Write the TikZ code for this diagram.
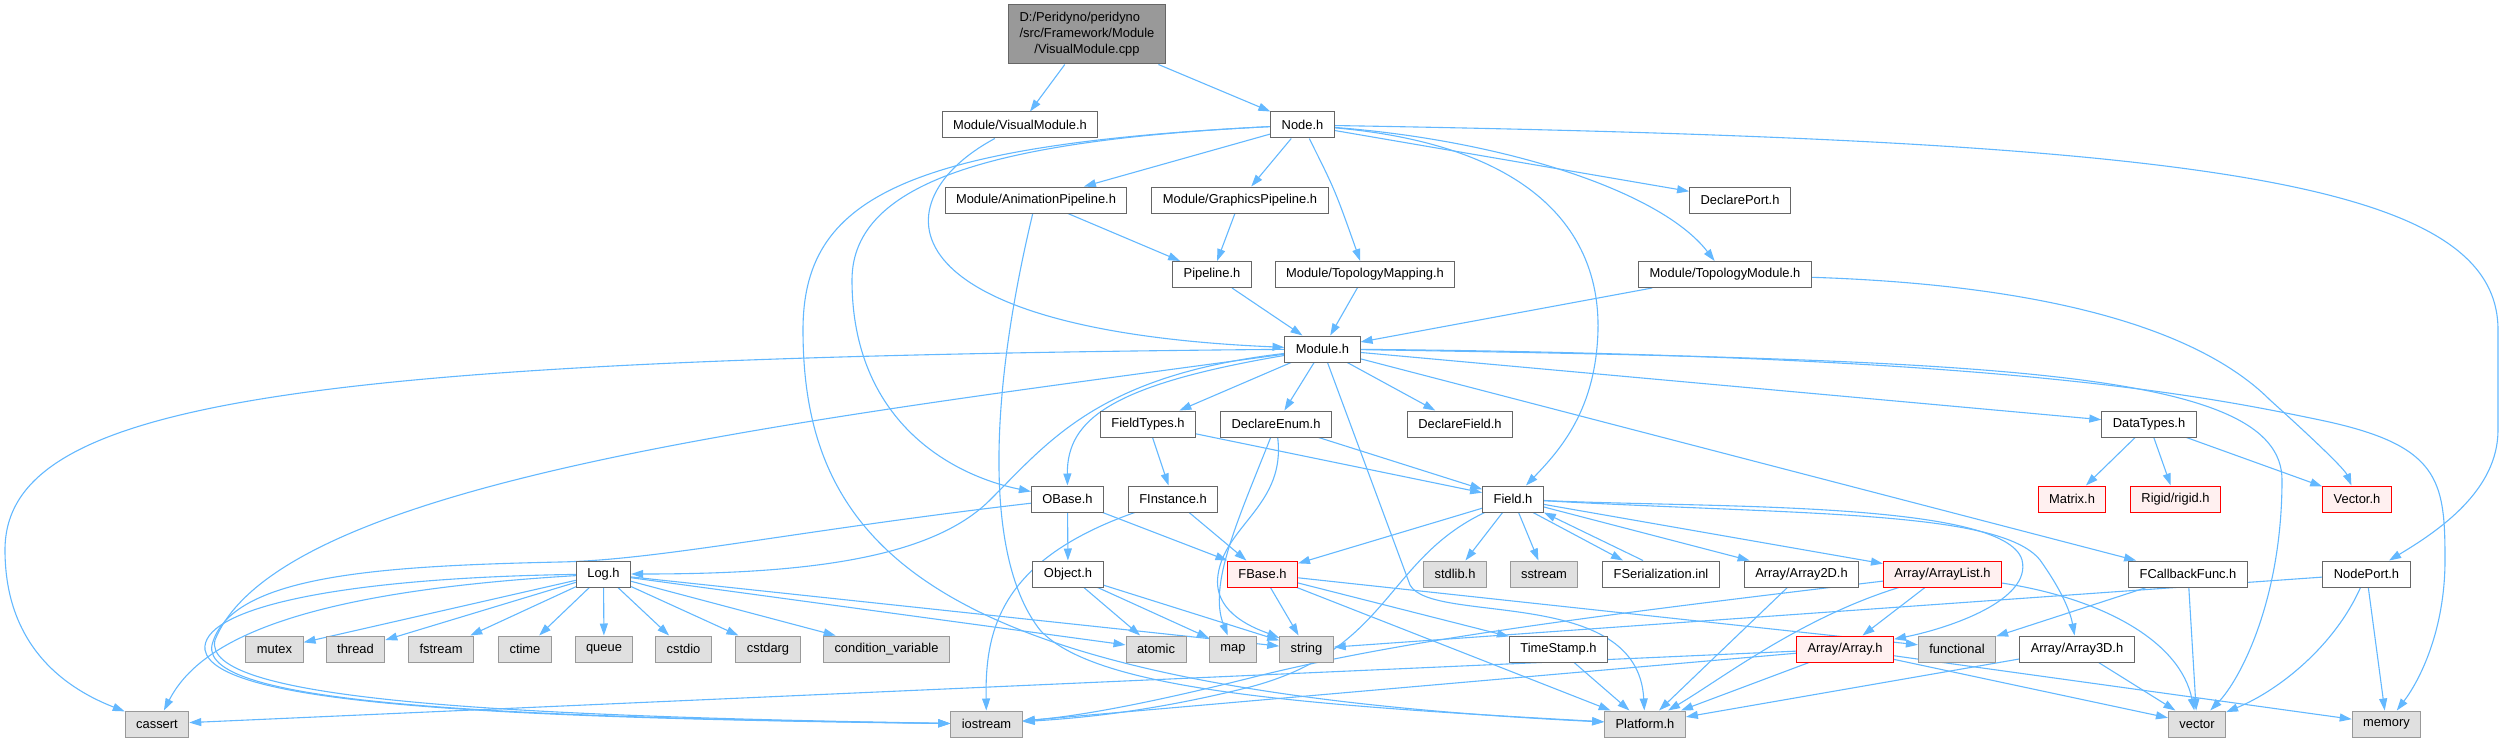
\documentclass[tikz,border=0pt]{standalone}
\usepackage{fontspec}
\setmainfont{Liberation Sans}
\usetikzlibrary{arrows.meta,backgrounds}
\definecolor{edgeblue}{HTML}{63B8FF}
\definecolor{boxline}{HTML}{666666}
\definecolor{sysline}{HTML}{999999}
\definecolor{sysfill}{HTML}{E0E0E0}
\definecolor{rootfill}{HTML}{999999}
\definecolor{redfill}{HTML}{FFF0F0}

\begin{document}
\begin{tikzpicture}[x=1pt,y=-1pt,>={Triangle[length=12pt,width=8pt]},
  file/.style={draw=boxline,fill=white,line width=1pt,minimum height=26pt,
    inner xsep=11pt,inner ysep=0pt,font=\fontsize{12.9}{16}\selectfont},
  sysfile/.style={file,draw=sysline,fill=sysfill},
  redfile/.style={file,draw=red,fill=redfill},
  dep/.style={->,edgeblue,line width=1.1pt}]
\useasboundingbox (0,0) rectangle (2504,741);

\node[file,fill=rootfill,minimum height=59pt] (cpp) at (1087,34.5)
  {\begin{tabular}{@{}l@{}}D:/Peridyno/peridyno\\/src/Framework/Module\\\multicolumn{1}{@{}c@{}}{/VisualModule.cpp}\end{tabular}};
\node[file] (vmodh) at (1020,125) {Module/VisualModule.h};
\node[file] (nodeh) at (1302.5,125) {Node.h};
\node[file] (animp) at (1036,200) {Module/AnimationPipeline.h};
\node[file] (gfxp) at (1240,200) {Module/GraphicsPipeline.h};
\node[file] (dport) at (1740,200) {DeclarePort.h};
\node[file] (pipe) at (1212,274.5) {Pipeline.h};
\node[file] (tmap) at (1365,274.5) {Module/TopologyMapping.h};
\node[file] (tmod) at (1725,274.5) {Module/TopologyModule.h};
\node[file] (modh) at (1322.5,349) {Module.h};
\node[file] (ftypes) at (1148,424) {FieldTypes.h};
\node[file] (denum) at (1276,424) {DeclareEnum.h};
\node[file] (dfield) at (1460,424) {DeclareField.h};
\node[file] (dtypes) at (2149,424) {DataTypes.h};
\node[file] (obase) at (1067.5,499) {OBase.h};
\node[file] (finst) at (1173,499) {FInstance.h};
\node[file] (field) at (1513,499) {Field.h};
\node[redfile] (matrix) at (2072,499) {Matrix.h};
\node[redfile] (rigid) at (2175.5,499) {Rigid/rigid.h};
\node[redfile] (vec) at (2357,499) {Vector.h};
\node[file] (log) at (603.5,574) {Log.h};
\node[file] (object) at (1068,574) {Object.h};
\node[redfile] (fbase) at (1262.5,574) {FBase.h};
\node[sysfile] (stdlib) at (1455,574) {stdlib.h};
\node[sysfile] (sstream) at (1544,574) {sstream};
\node[file] (fser) at (1661,574) {FSerialization.inl};
\node[file] (arr2d) at (1801.5,574) {Array/Array2D.h};
\node[redfile] (arrlist) at (1942.5,574) {Array/ArrayList.h};
\node[file] (fcb) at (2188,574) {FCallbackFunc.h};
\node[file] (nport) at (2366.5,574) {NodePort.h};
\node[sysfile] (mutex) at (274.5,649) {mutex};
\node[sysfile] (thread) at (355.5,649) {thread};
\node[sysfile] (fstream) at (441,649) {fstream};
\node[sysfile] (ctime) at (525,649) {ctime};
\node[sysfile] (queue) at (604,649) {queue};
\node[sysfile] (cstdio) at (683.5,649) {cstdio};
\node[sysfile] (cstdarg) at (768,649) {cstdarg};
\node[sysfile] (condvar) at (886.5,649) {condition\_variable};
\node[sysfile] (atomic) at (1156,649) {atomic};
\node[sysfile] (map) at (1233,649) {map};
\node[sysfile] (string) at (1306.5,649) {string};
\node[file] (tstamp) at (1558.5,649) {TimeStamp.h};
\node[redfile] (arr) at (1845,649) {Array/Array.h};
\node[sysfile] (functional) at (1957,649) {functional};
\node[file] (arr3d) at (2077,649) {Array/Array3D.h};
\node[sysfile] (cassert) at (157,724) {cassert};
\node[sysfile] (iostream) at (986.5,724) {iostream};
\node[sysfile] (platform) at (1645,724) {Platform.h};
\node[sysfile] (vector) at (2197,724) {vector};
\node[sysfile] (memory) at (2386.5,724) {memory};

\begin{pgfonlayer}{background}
\draw[dep] (cpp) -- (vmodh);
\draw[dep] (cpp) -- (nodeh);
\draw[dep] (vmodh) .. controls (880,200) and (880,330) .. (modh);
\draw[dep] (nodeh) -- (animp);
\draw[dep] (nodeh) -- (gfxp);
\draw[dep] (nodeh) .. controls (1335,190) .. (tmap);
\draw[dep] (nodeh) -- (dport);
\draw[dep] (nodeh) .. controls (1500,140) and (1660,190) .. (tmod);
\draw[dep] (nodeh) .. controls (2200,140) and (2498,180) .. (2498,330) -- (2498,430)
  .. controls (2498,490) and (2440,530) .. (nport);
\draw[dep] (nodeh) .. controls (1530,145) and (1600,230) .. (1598,330)
  .. controls (1596,410) and (1560,450) .. (field);
\draw[dep] (nodeh) .. controls (1000,140) and (852,180) .. (852,280)
  .. controls (852,420) and (950,475) .. (obase);
\draw[dep] (nodeh) .. controls (900,145) and (803,200) .. (803,330)
  .. controls (803,560) and (950,690) .. (platform);
\draw[dep] (animp) -- (pipe);
\draw[dep] (animp) .. controls (988,400) and (985,560) .. (1040,630)
  .. controls (1095,690) and (1300,705) .. (platform);
\draw[dep] (gfxp) -- (pipe);
\draw[dep] (pipe) -- (modh);
\draw[dep] (tmap) -- (modh);
\draw[dep] (tmod) -- (modh);
\draw[dep] (tmod) .. controls (2050,285) and (2200,330) .. (2270,400)
  .. controls (2320,445) and (2345,470) .. (vec);

\draw[dep] (modh) .. controls (300,358) and (5,400) .. (5,550)
  .. controls (5,650) and (70,690) .. (cassert);
\draw[dep] (modh) .. controls (1100,375) and (1050,440) .. (990,500)
  .. controls (930,560) and (800,574) .. (log);
\draw[dep] (modh) .. controls (1110,385) and (1067,420) .. (obase);
\draw[dep] (modh) .. controls (800,420) and (280,480) .. (215,640)
  .. controls (200,700) and (500,716) .. (iostream);
\draw[dep] (modh) -- (ftypes);
\draw[dep] (modh) -- (denum);
\draw[dep] (modh) -- (dfield);
\draw[dep] (modh) -- (1410,585) .. controls (1432,625) and (1638,585) .. (platform);
\draw[dep] (modh) -- (dtypes);
\draw[dep] (modh) -- (fcb);
\draw[dep] (modh) .. controls (2000,360) and (2282,370) .. (2282,480)
  .. controls (2282,600) and (2240,680) .. (vector);
\draw[dep] (modh) .. controls (2000,355) and (2200,395) .. (2320,420)
  .. controls (2440,445) and (2445,480) .. (2445,560)
  .. controls (2445,630) and (2420,680) .. (memory);

\draw[dep] (ftypes) -- (finst);
\draw[dep] (ftypes) -- (field);
\draw[dep] (denum) -- (field);
\draw[dep] (denum) .. controls (1238,520) and (1208,585) .. (map);
\draw[dep] (denum) .. controls (1286,505) and (1225,525) .. (1218,575)
  .. controls (1212,615) and (1260,630) .. (string);
\draw[dep] (dtypes) -- (matrix);
\draw[dep] (dtypes) -- (rigid);
\draw[dep] (dtypes) -- (vec);

\draw[dep] (obase) -- (object);
\draw[dep] (obase) -- (fbase);
\draw[dep] (obase) .. controls (800,530) and (660,560) .. (560,562)
  .. controls (380,566) and (230,575) .. (212,645)
  .. controls (200,705) and (500,717) .. (iostream);
\draw[dep] (finst) -- (fbase);
\draw[dep] (finst) .. controls (1000,560) and (985,630) .. (iostream);

\draw[dep] (field) -- (fbase);
\draw[dep] (field) -- (stdlib);
\draw[dep] (field) -- (sstream);
\draw[dep] ([xshift=20pt]field.south) -- ([xshift=-38pt]fser.north);
\draw[dep] ([xshift=-18pt]fser.north) -- (field.south east);
\draw[dep] (field) -- (arr2d);
\draw[dep] (field) -- (arrlist);
\draw[dep] (field) .. controls (1700,508) and (2005,500) .. (2022,560)
  .. controls (2032,600) and (1950,628) .. (arr);
\draw[dep] (field) .. controls (1800,515) and (2000,510) .. (2040,560)
  .. controls (2060,588) and (2070,610) .. (arr3d);
\draw[dep] (field) .. controls (1385,560) and (1390,650) .. (1250,687)
  .. controls (1150,712) and (1080,718) .. (iostream);

\draw[dep] (log) -- (mutex);
\draw[dep] (log) -- (thread);
\draw[dep] (log) -- (fstream);
\draw[dep] (log) -- (ctime);
\draw[dep] (log) -- (queue);
\draw[dep] (log) -- (cstdio);
\draw[dep] (log) -- (cstdarg);
\draw[dep] (log) -- (condvar);
\draw[dep] (log) -- (atomic);
\draw[dep] (log) -- (string);
\draw[dep] (log) .. controls (300,592) and (200,640) .. (cassert);
\draw[dep] (log) .. controls (330,578) and (200,610) .. (205,650)
  .. controls (215,705) and (500,718) .. (iostream);

\draw[dep] (object) -- (atomic);
\draw[dep] (object) -- (map);
\draw[dep] (object) -- (string);
\draw[dep] (fbase) -- (string);
\draw[dep] (fbase) -- (tstamp);
\draw[dep] (fbase) -- (platform);
\draw[dep] (fbase) -- (functional);

\draw[dep] (arr2d) -- (platform);
\draw[dep] (arrlist) -- (arr);
\draw[dep] (arrlist) .. controls (1800,618) and (1720,680) .. (platform);
\draw[dep] (arrlist) .. controls (2100,598) and (2180,640) .. (vector);
\draw[dep] (arrlist) .. controls (1600,615) and (1400,640) .. (1250,678)
  .. controls (1150,703) and (1080,716) .. (iostream);
\draw[dep] (fcb) -- (functional);
\draw[dep] (fcb) -- (vector);
\draw[dep] (nport) -- (string);
\draw[dep] (nport) .. controls (2335,645) and (2280,690) .. (vector);
\draw[dep] (nport) -- (memory);

\draw[dep] (tstamp) -- (platform);
\draw[dep] (arr) -- (platform);
\draw[dep] (arr) -- (cassert);
\draw[dep] (arr) -- (iostream);
\draw[dep] (arr) -- (vector);
\draw[dep] (arr) -- (memory);
\draw[dep] (arr3d) -- (platform);
\draw[dep] (arr3d) -- (vector);
\end{pgfonlayer}
\end{tikzpicture}
\end{document}
